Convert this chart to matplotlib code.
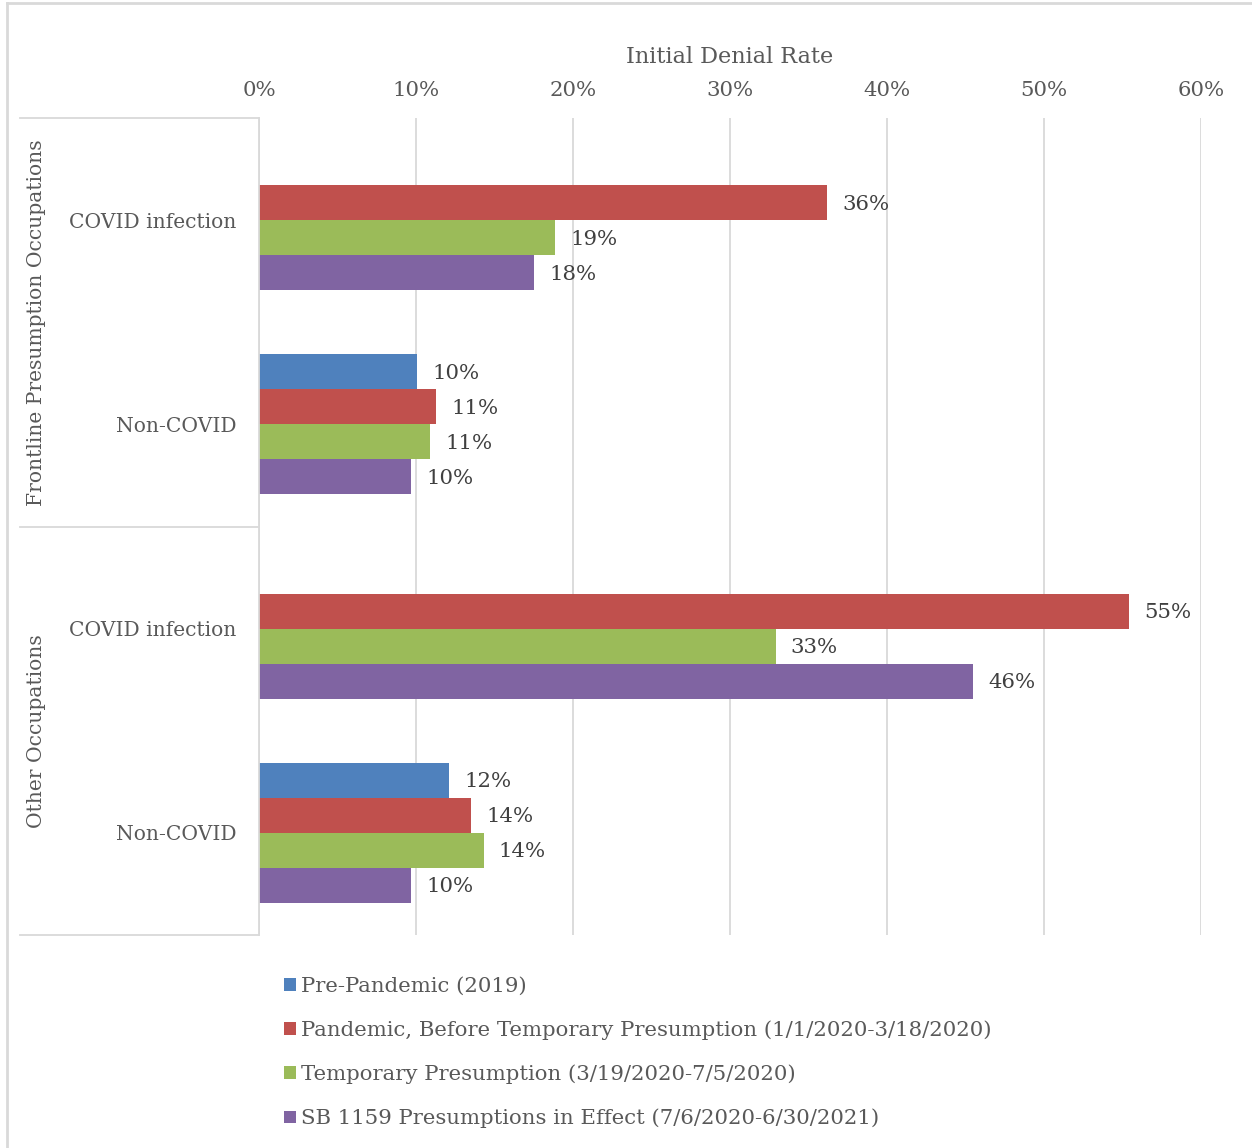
import numpy as np
import matplotlib
matplotlib.use("Agg")
import matplotlib.pyplot as plt
from matplotlib.lines import Line2D

plt.rcParams['font.family'] = ['DejaVu Serif']

# categories top to bottom
groups = ['Frontline Presumption Occupations', 'Other Occupations']
categories = ['COVID infection', 'Non-COVID', 'COVID infection', 'Non-COVID']
series = ['Pre-Pandemic (2019)',
          'Pandemic, Before Temporary Presumption (1/1/2020-3/18/2020)',
          'Temporary Presumption (3/19/2020-7/5/2020)',
          'SB 1159 Presumptions in Effect (7/6/2020-6/30/2021)']
colors = ['#4f81bd', '#c0504d', '#9bbb59', '#8064a2']

pre_pandemic = [np.nan, 0.1006, np.nan, 0.121]
before_temp = [0.362, 0.113, 0.554, 0.135]
temporary = [0.1885, 0.109, 0.329, 0.143]
sb1159 = [0.175, 0.097, 0.455, 0.097]
values = [pre_pandemic, before_temp, temporary, sb1159]

W, H = 1252, 1148
fig = plt.figure(figsize=(W / 100, H / 100), dpi=100)
ax = fig.add_axes([259 / W, (H - 935) / H, (1201 - 259) / W, (935 - 118) / H])

txt = '#595959'
grid = '#d9d9d9'
fs = 15.3
fs_cat = 14.6

y = np.arange(len(categories))
bh = 0.1714
for i, (vals, col, name) in enumerate(zip(values, colors, series)):
    pos = y + (i - 1.5) * bh
    vals = np.array(vals)
    ax.barh(pos, np.nan_to_num(vals), height=bh, color=col, label=name)
    for p, v in zip(pos, vals):
        if not np.isnan(v):
            ax.annotate(f'{v * 100:.0f}%', (v, p), xytext=(11, -1),
                        textcoords='offset points', va='center', ha='left',
                        fontsize=fs, color='#404040')

ax.set_xlim(0, 0.6)
ax.set_ylim(3.5, -0.5)
ax.set_xticks(np.arange(0, 0.61, 0.1))
ax.set_xticklabels([f'{t * 100:.0f}%' for t in np.arange(0, 0.61, 0.1)])
ax.xaxis.tick_top()
ax.xaxis.set_label_position('top')
ax.set_xlabel('Initial Denial Rate', fontsize=fs + 0.8, color=txt, labelpad=13)
ax.tick_params(axis='x', length=0, pad=13, labelsize=fs, labelcolor=txt)
ax.set_yticks(y)
ax.set_yticklabels(categories)
ax.tick_params(axis='y', length=0, pad=16, labelsize=fs_cat, labelcolor=txt)
ax.grid(axis='x', color=grid, lw=1.3)
ax.set_axisbelow(True)
for s in ['top', 'right', 'bottom']:
    ax.spines[s].set_visible(False)
ax.spines['left'].set_color(grid)
ax.spines['left'].set_linewidth(1.3)

# category frame on the left
tr = ax.get_yaxis_transform()
for yy in [-0.5, 1.5, 3.5]:
    ax.plot([-0.254, 0], [yy, yy], transform=tr, color=grid, lw=1.3, clip_on=False)
for k, g in enumerate(groups):
    ax.text(-0.236, 2 * k + 0.5, g, transform=tr, rotation=90, ha='center',
            va='center', fontsize=fs_cat, color=txt)

# outer border (top and left visible)
fig.add_artist(Line2D([7 / W, 1], [1 - 3 / H, 1 - 3 / H], color=grid, lw=2))
fig.add_artist(Line2D([7 / W, 7 / W], [0, 1 - 3 / H], color=grid, lw=2))

leg = fig.legend(loc='upper left', bbox_to_anchor=(265 / W, 1 - 958 / H),
                 frameon=False, fontsize=fs, labelcolor=txt, handlelength=0.55,
                 handleheight=0.55, handletextpad=0.25, labelspacing=1.15)

fig.savefig('out.png', dpi=100)
